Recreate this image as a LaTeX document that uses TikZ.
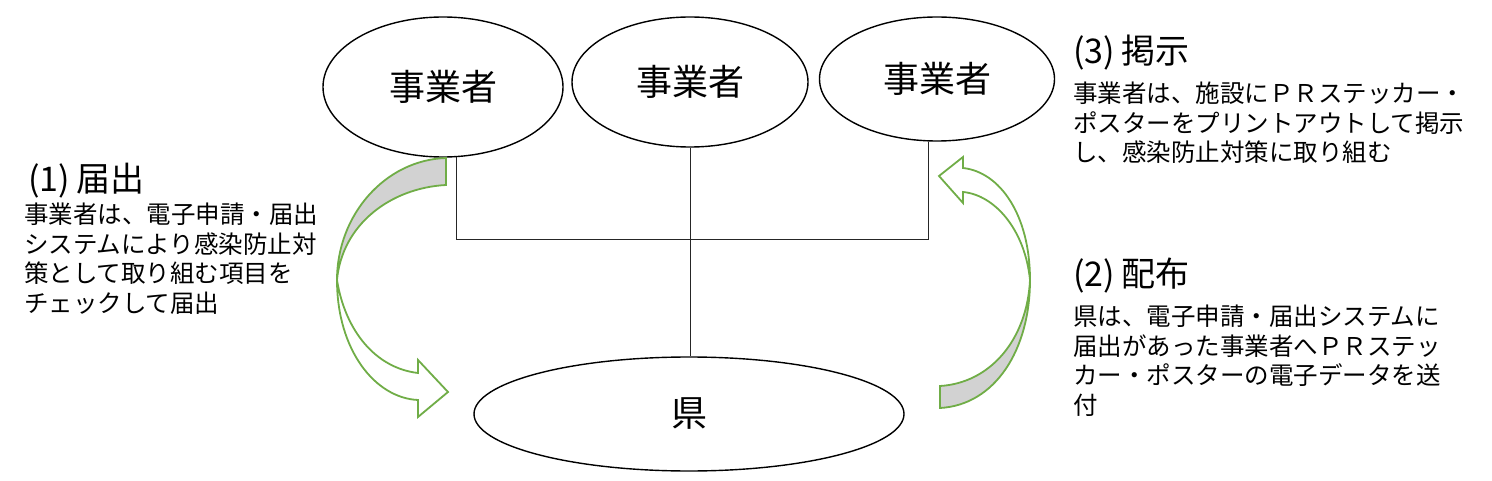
\documentclass[tikz,border=0pt]{standalone}
\usepackage{fontspec}
\setmainfont{Noto Sans CJK JP}
\usetikzlibrary{shapes.geometric,calc}
\definecolor{arrowgreen}{RGB}{112,173,71}
\definecolor{bandgray}{RGB}{210,210,210}

\begin{document}
\begin{tikzpicture}[x=1pt, y=-1pt,
  every node/.style={inner sep=0pt, align=left},
  party/.style={ellipse, draw=black, line width=1.4pt, font=\fontsize{36}{42}\selectfont},
  headtext/.style={anchor=base west, font=\fontsize{34}{40}\selectfont},
  bodytext/.style={anchor=north west, font=\fontsize{24.5}{29.5}\selectfont},
  link/.style={draw=black!85, line width=0.9pt},
  curvearrow/.style={draw=arrowgreen, line width=1.8pt, line join=miter}]
  \useasboundingbox (0,0) rectangle (1492,481);

  % businesses and prefecture
  \node[party, minimum width=240pt, minimum height=140pt] (jg1) at (443,87) {事業者};
  \node[party, minimum width=236pt, minimum height=130pt] (jg2) at (690,82) {事業者};
  \node[party, minimum width=235pt, minimum height=124pt] (jg3) at (937,79) {事業者};
  \node[party, minimum width=430pt, minimum height=114pt] (ken) at (689,414) {県};

  % connecting lines
  \draw[link] (jg1.-79) -- ++(0,82) -| (jg3.-98);
  \draw[link] (jg2.south) -- (jg2.south |- ken.north);

  % (1) curved arrow down to the prefecture
  \fill[bandgray] (446,158) .. controls (385,160) and (337,215) .. (337,280)
    .. controls (342,225) and (390,188) .. (446,185) -- cycle;
  \draw[curvearrow] (446,158) .. controls (385,160) and (337,215) .. (337,280)
    .. controls (342,225) and (390,188) .. (446,185) -- cycle;
  \draw[curvearrow, fill=white] (337,280) .. controls (345,330) and (375,368) .. (418,373)
    -- (418,360) -- (448,392) -- (418,417) -- (418,400)
    .. controls (375,398) and (337,350) .. (337,280) -- cycle;

  % (2)/(3) curved arrow up to the businesses
  \draw[curvearrow, fill=bandgray] (940,386) .. controls (990,383) and (1027,340) .. (1030,280)
    .. controls (1030,350) and (995,405) .. (940,408) -- cycle;
  \draw[curvearrow, fill=white] (1030,280) .. controls (1030,215) and (1000,172) .. (963,168)
    -- (963,157) -- (939,176) -- (963,203) -- (963,192)
    .. controls (995,195) and (1025,230) .. (1030,280) -- cycle;

  % texts
  \node[headtext] (h1) at (28,192) {(1)\hspace{0.2em}届出};
  \node[bodytext] (b1) at (24,203) {事業者は、電子申請・届出\\システムにより感染防止対\\策として取り組む項目を\\チェックして届出};
  \node[headtext] (h3) at (1073,64) {(3)\hspace{0.2em}掲示};
  \node[bodytext] (b3) at (1073,82) {事業者は、施設にＰＲステッカー・\\ポスターをプリントアウトして掲示\\し、感染防止対策に取り組む};
  \node[headtext] (h2) at (1073,287) {(2)\hspace{0.2em}配布};
  \node[bodytext] (b2) at (1073,305) {県は、電子申請・届出システムに\\届出があった事業者へＰＲステッ\\カー・ポスターの電子データを送\\付};
\end{tikzpicture}
\end{document}
